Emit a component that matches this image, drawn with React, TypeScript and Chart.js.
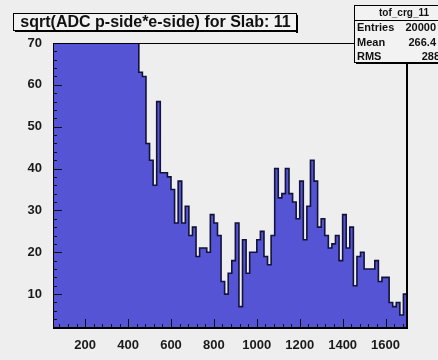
import React, { useEffect, useRef } from "react";
import { Chart, registerables } from "chart.js";

Chart.register(...registerables);

// ---- data ----
const TITLE = "sqrt(ADC p-side*e-side) for Slab: 11";
const STATS_NAME = "tof_crg_11";
const STATS_LABELS = ["Entries", "Mean", "RMS"];
const STATS_VALUES = ["20000", "266.4", "288"];

const FIRST_EDGE = 50;
const BIN_WIDTH = 50 / 3;
// bins 50..450 are off scale (clipped at 70)
const COUNTS_LOW = [
  1450, 1390, 1320, 1260, 1180, 1110, 1050, 990, 930, 860, 800, 740,
  690, 630, 580, 520, 470, 420, 370, 320, 270, 220, 170, 120,
];
const COUNTS_HIGH = [
  63, 62, 46, 42, 36, 56, 39, 39, 38, 35,
  27, 37, 27, 31, 24, 26, 19, 21, 21, 20,
  29, 27, 24, 13, 10, 15, 18, 27, 7, 23,
  15, 20, 20, 23, 25, 19, 17, 24, 40, 33,
  34, 40, 34, 32, 28, 37, 23, 31, 42, 37,
  26, 28, 24, 21, 22, 24, 18, 29, 21, 26,
  12, 19, 20, 16, 16, 16, 18, 13, 14, 14,
  8, 7, 8, 5, 10, 11,
];
const X_TICKS = [200, 400, 600, 800, 1000, 1200, 1400, 1600];
const Y_TICKS = [10, 20, 30, 40, 50, 60, 70];
const X_MIN = 50;
const X_MAX = 1700;
const Y_MIN = 1.9;
const Y_MAX = 70;

const BG = "#eeeeee";
const FILL = "#5454d4";
const FONT = "'Liberation Sans', Arial, sans-serif";

const rootPlugin = {
  id: "rootDecor",
  beforeDraw(chart: any) {
    const { ctx, width, height } = chart;
    ctx.save();
    ctx.fillStyle = BG;
    ctx.fillRect(0, 0, width, height);
    ctx.restore();
  },
  afterDatasetsDraw(chart: any) {
    const { ctx, chartArea: a, scales } = chart;
    const x = scales.x;
    const y = scales.y;
    ctx.save();
    ctx.strokeStyle = "#111";
    ctx.lineWidth = 1;
    ctx.beginPath();
    // y ticks (inward)
    for (let v = 2; v <= Y_MAX; v += 2) {
      if (v < Y_MIN) continue;
      const py = Math.round(y.getPixelForValue(v)) + 0.5;
      const len = v % 10 === 0 ? 9 : 4;
      ctx.moveTo(a.left, py);
      ctx.lineTo(a.left + len, py);
    }
    // x ticks (inward)
    for (let v = 80; v <= X_MAX; v += 40) {
      const px = Math.round(x.getPixelForValue(v)) + 0.5;
      const len = v % 200 === 0 ? 9 : 4;
      ctx.moveTo(px, a.bottom);
      ctx.lineTo(px, a.bottom - len);
    }
    ctx.stroke();
    // frame
    ctx.lineWidth = 1;
    ctx.strokeStyle = "#000";
    ctx.strokeRect(Math.round(a.left) + 0.5, Math.round(a.top) + 0.5, Math.round(a.right - a.left), Math.round(a.bottom - a.top));
    ctx.lineWidth = 2;
    ctx.beginPath();
    ctx.moveTo(Math.round(a.right), a.top);
    ctx.lineTo(Math.round(a.right), a.bottom);
    ctx.moveTo(a.left, Math.round(a.bottom));
    ctx.lineTo(a.right, Math.round(a.bottom));
    ctx.stroke();
    ctx.restore();
  },
  afterDraw(chart: any) {
    const { ctx } = chart;
    ctx.save();
    // title box
    const tx = 13, ty = 13, tw = 283, th = 17;
    ctx.fillStyle = "#f2f2f2";
    ctx.fillRect(tx, ty, tw, th);
    ctx.strokeStyle = "#000";
    ctx.lineWidth = 1;
    ctx.strokeRect(tx + 0.5, ty + 0.5, tw, th);
    ctx.fillStyle = "#000";
    ctx.fillRect(tx + tw, ty + 2, 2, th + 1);
    ctx.fillRect(tx + 2, ty + th, tw, 2);
    ctx.fillStyle = "#111";
    ctx.font = `bold 16px ${FONT}`;
    ctx.textAlign = "center";
    ctx.textBaseline = "middle";
    ctx.fillText(TITLE, tx + tw / 2 + 1, ty + th / 2 + 1.5);

    // stats box
    const sx = 354, sy = 5, sw = 110, sh = 57;
    ctx.fillStyle = "#f2f2f2";
    ctx.fillRect(sx, sy, sw, sh);
    ctx.strokeStyle = "#000";
    ctx.lineWidth = 1;
    ctx.strokeRect(sx + 0.5, sy + 0.5, sw, sh);
    ctx.fillStyle = "#000";
    ctx.fillRect(sx + 2, sy + sh, sw, 2);
    ctx.beginPath();
    ctx.moveTo(sx, sy + 15.5);
    ctx.lineTo(sx + sw, sy + 15.5);
    ctx.stroke();
    ctx.fillStyle = "#111";
    ctx.font = `bold 10px ${FONT}`;
    ctx.textAlign = "center";
    ctx.fillText(STATS_NAME, 404, sy + 8);
    ctx.font = `bold 11px ${FONT}`;
    const rows = [28, 43, 57];
    STATS_LABELS.forEach((lab, i) => {
      ctx.textAlign = "left";
      ctx.fillText(lab, 357, rows[i]);
      ctx.textAlign = "right";
      ctx.fillText(STATS_VALUES[i], i === 2 ? 440 : 436, rows[i]);
    });
    ctx.restore();
  },
};

export default function App() {
  const ref = useRef<HTMLCanvasElement | null>(null);
  useEffect(() => {
    if (!ref.current) return;
    const counts = [...COUNTS_LOW, ...COUNTS_HIGH];
    const pts = counts.map((c, i) => ({ x: FIRST_EDGE + i * BIN_WIDTH, y: c }));
    pts.push({ x: FIRST_EDGE + counts.length * BIN_WIDTH, y: counts[counts.length - 1] });
    const chart = new Chart(ref.current, {
      type: "line",
      data: {
        datasets: [
          {
            data: pts,
            stepped: "before",
            borderColor: "#12123a",
            borderWidth: 1.6,
            backgroundColor: FILL,
            fill: "start",
            pointRadius: 0,
          } as any,
        ],
      },
      options: {
        animation: false,
        responsive: false,
        devicePixelRatio: 1,
        layout: { padding: { left: 0, top: 43, right: 31, bottom: 0 } },
        plugins: { legend: { display: false }, tooltip: { enabled: false }, title: { display: false } },
        scales: {
          x: {
            type: "linear",
            min: X_MIN,
            max: X_MAX,
            grid: { display: false },
            border: { display: false },
            afterBuildTicks: (s: any) => { s.ticks = X_TICKS.map((v) => ({ value: v })); },
            afterFit: (s: any) => { s.height = 32; },
            ticks: {
              color: "#1a1a1a",
              font: { family: FONT, size: 13, weight: "bold" },
              padding: 2,
              maxRotation: 0,
              autoSkip: false,
              callback: (v: any) => String(v),
            },
          },
          y: {
            type: "linear",
            min: Y_MIN,
            max: Y_MAX,
            grid: { display: false },
            border: { display: false },
            afterBuildTicks: (s: any) => { s.ticks = Y_TICKS.map((v) => ({ value: v })); },
            afterFit: (s: any) => { s.width = 53; },
            ticks: {
              color: "#1a1a1a",
              font: { family: FONT, size: 13, weight: "bold" },
              padding: 3,
              autoSkip: false,
              callback: (v: any) => String(v),
            },
          },
        },
      },
      plugins: [rootPlugin],
    });
    return () => chart.destroy();
  }, []);
  return (
    <div style={{ position: "fixed", left: 0, top: 0, width: 438, height: 360, background: BG }}>
      <canvas ref={ref} width={438} height={360} style={{ display: "block" }} />
    </div>
  );
}
